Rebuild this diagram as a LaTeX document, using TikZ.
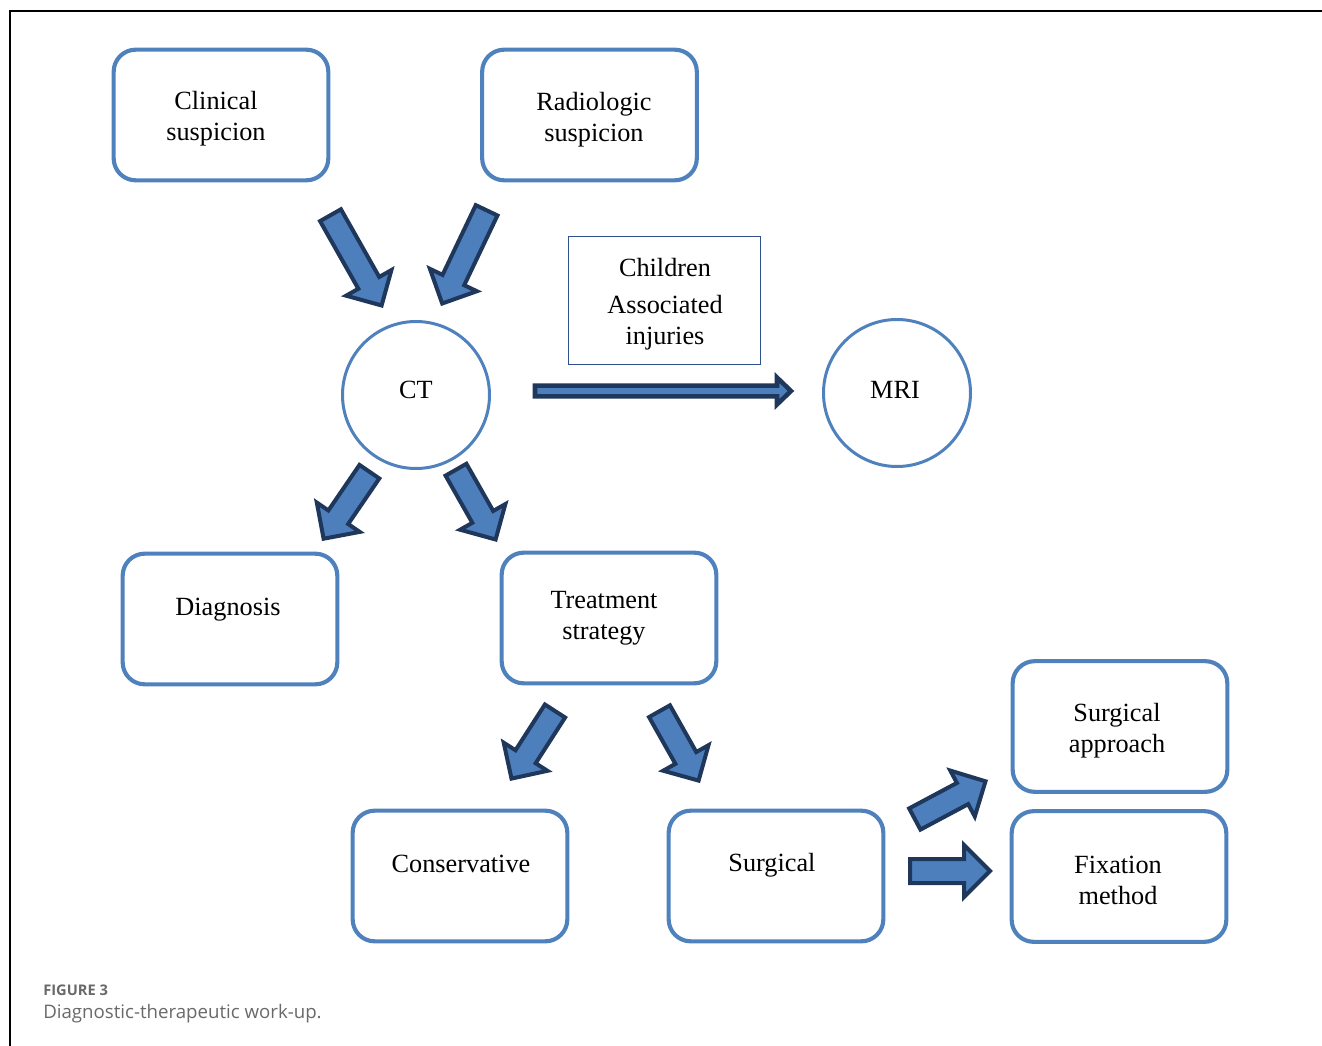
\documentclass[tikz,border=0pt]{standalone}
\usepackage{fontspec}
\setmainfont{Liberation Serif}
\newfontfamily\capfont{Open Sans}
\usetikzlibrary{calc}
\definecolor{boxblue}{RGB}{79,129,189}
\definecolor{arrfill}{RGB}{76,127,188}
\definecolor{navy}{RGB}{30,55,90}
\definecolor{thinbox}{RGB}{47,82,143}
\definecolor{capgrey}{RGB}{105,105,105}
% block arrow: tail, tip, shaft half width, head half width, head length
\newcommand\blockarr[6]{%
  \coordinate (#1-H) at ($(#2)!#5!(#1)$);
  \draw[#6] ($(#1)!#3!90:(#2)$) -- ($(#1-H)!#3!-90:(#1)$) -- ($(#1-H)!#4!-90:(#1)$)
    -- (#2) -- ($(#1-H)!#4!90:(#1)$) -- ($(#1-H)!#3!90:(#1)$) -- ($(#1)!#3!-90:(#2)$) -- cycle;}
\begin{document}
\begin{tikzpicture}[x=0.75pt,y=-0.75pt,
  roundbox/.style={draw=boxblue,line width=3.1pt,rounded corners=16.5pt,minimum width=161pt,minimum height=98pt,inner sep=0pt},
  ring/.style={circle,draw=boxblue,line width=2.25pt,minimum size=110.25pt,inner sep=0pt},
  thinrect/.style={draw=thinbox,line width=1.1pt,minimum width=144pt,minimum height=96pt,inner sep=0pt},
  txt/.style={font=\fontsize{19.7}{23.25}\selectfont,align=center,inner sep=0pt},
  fatarrow/.style={fill=arrfill,draw=navy,line width=3pt,line join=miter,miter limit=10},
  slimarrow/.style={fill=arrfill,draw=navy,line width=3.4pt,line join=miter,miter limit=10},
  figlabel/.style={font=\capfont\bfseries\fontsize{11}{13}\selectfont,text=capgrey,anchor=west,inner sep=0pt},
  captext/.style={font=\capfont\fontsize{14}{16}\selectfont,text=capgrey,anchor=west,inner sep=0pt}]
\useasboundingbox (0,0) rectangle (1322,1046);
% frame
\draw[line width=1.5pt,black] (10,1046) -- (10,11) -- (1322,11);
% boxes
\node[roundbox] (clin) at (221,115) {};
\node[txt] (clint) at (216,118.5) {Clinical\\suspicion};
\node[roundbox] (radio) at (589.5,115) {};
\node[txt] (radiot) at (594,119.5) {Radiologic\\suspicion};
\node[ring] (ct) at (416,395) {};
\node[txt] (ctt) at (416,390) {CT};
\node[ring] (mri) at (897,393) {};
\node[txt] (mrit) at (895,390) {MRI};
\node[thinrect] (child) at (664.5,300.5) {};
\node[txt] (childt) at (665,304) {Children\\[4.5pt]Associated\\injuries};
\node[roundbox] (diag) at (230,619) {};
\node[txt] (diagt) at (228,610) {Diagnosis};
\node[roundbox] (treat) at (609,618) {};
\node[txt] (treatt) at (604,618.5) {Treatment\\strategy};
\node[roundbox] (sapp) at (1120,726.5) {};
\node[txt] (sappt) at (1117,730.5) {Surgical\\approach};
\node[roundbox] (cons) at (460,876) {};
\node[txt] (const) at (461,864) {Conservative};
\node[roundbox] (surg) at (776,876) {};
\node[txt] (surgt) at (772,865) {Surgical};
\node[roundbox] (fix) at (1119,876.5) {};
\node[txt] (fixt) at (1118,880.5) {Fixation\\method};
% arrow end points
\coordinate (a1s) at (330.5,215.2); \coordinate (a1e) at (381.6,305.5);
\coordinate (a2s) at (486.6,210.3); \coordinate (a2e) at (442.2,303.5);
\coordinate (a3s) at (369.4,471.7); \coordinate (a3e) at (323.6,538.7);
\coordinate (a4s) at (456,469.7);   \coordinate (a4e) at (495.6,539.5);
\coordinate (a5s) at (555,711);     \coordinate (a5e) at (511.5,778.6);
\coordinate (a6s) at (659.5,711.2); \coordinate (a6e) at (698.6,780.6);
\coordinate (a7s) at (914.8,819);   \coordinate (a7e) at (985.5,781.3);
\coordinate (a8s) at (910,871);     \coordinate (a8e) at (990,871);
\coordinate (mrs) at (535,391);     \coordinate (mre) at (791,391);
\blockarr{a1s}{a1e}{9pt}{19.5pt}{19.5pt}{fatarrow}
\blockarr{a2s}{a2e}{9pt}{19.5pt}{19.5pt}{fatarrow}
\blockarr{a3s}{a3e}{9pt}{19.5pt}{19.5pt}{fatarrow}
\blockarr{a4s}{a4e}{9pt}{19.5pt}{19.5pt}{fatarrow}
\blockarr{a5s}{a5e}{9pt}{19.5pt}{19.5pt}{fatarrow}
\blockarr{a6s}{a6e}{9pt}{19.5pt}{19.5pt}{fatarrow}
\blockarr{a7s}{a7e}{9pt}{19.5pt}{19.5pt}{fatarrow}
\blockarr{a8s}{a8e}{9pt}{19.5pt}{19.5pt}{fatarrow}
\blockarr{mrs}{mre}{4pt}{10.1pt}{10.5pt}{slimarrow}
% caption
\node[figlabel] (figl) at (43,990) {FIGURE 3};
\node[captext] (capt) at (43,1014) {Diagnostic-therapeutic work-up.};
\end{tikzpicture}
\end{document}
